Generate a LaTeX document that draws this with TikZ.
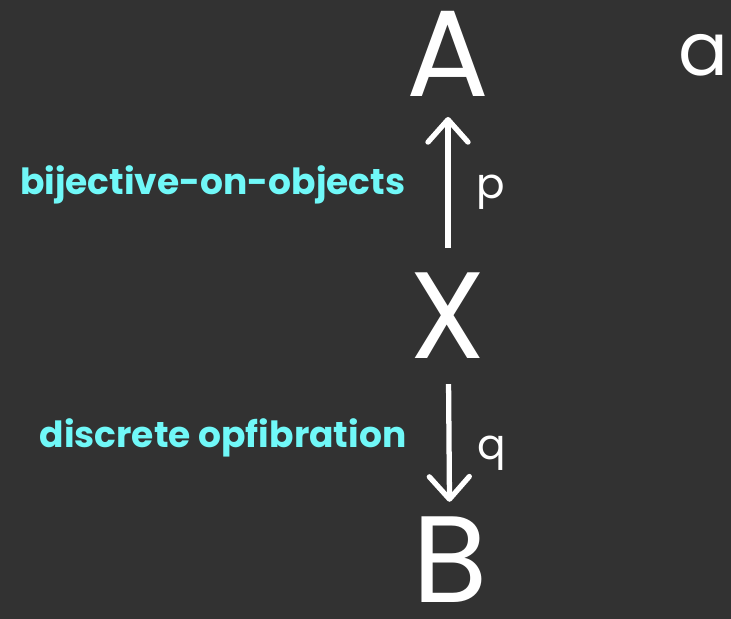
\documentclass[tikz,border=0pt]{standalone}
\usepackage{fontspec}
\setmainfont{Poppins}
\usetikzlibrary{arrows.meta, positioning}
\definecolor{bgGray}{HTML}{323232}
\definecolor{labelCyan}{HTML}{70F8F8}

\begin{document}
\begin{tikzpicture}[x=0.02cm, y=-0.02cm, every node/.style={text=white, inner sep=0pt},
  bigObj/.style={font=\fontsize{70}{70}\selectfont},
  mapName/.style={font=\fontsize{24}{24}\selectfont},
  kindLabel/.style={text=labelCyan, font=\fontsize{20.5}{21}\selectfont\bfseries},
  mapArrow/.style={draw=white, line width=3pt, -{Straight Barb[length=4.5mm, width=8mm, round]}}]
\fill[bgGray] (0,0) rectangle (731,619);
\useasboundingbox (0,0) rectangle (731,619);

% the span A <- X -> B
\node (objA) [bigObj] at (448,54) {A};
\node (objX) [bigObj] at (448,316) {X};
\node (objB) [bigObj] at (450,560) {B};
\node (objSmallA) [font=\fontsize{42}{42}\selectfont] at (703,55) {a};

\draw[mapArrow, shorten <=0.5cm, shorten >=0.4cm] (objX) -- (objA)
  node[midway, right=0.52cm, mapName, yshift=-0.15cm] (mapP) {p}
  node[midway, left=0.8cm, kindLabel] (bijLabel) {bijective-on-objects};
\draw[mapArrow, shorten <=0.5cm, shorten >=0.3cm] (objX) -- (objB)
  node[midway, right=0.52cm, mapName, yshift=-0.3cm] (mapQ) {q}
  node[midway, left=0.8cm, kindLabel] (dofLabel) {discrete opfibration};
\end{tikzpicture}
\end{document}
